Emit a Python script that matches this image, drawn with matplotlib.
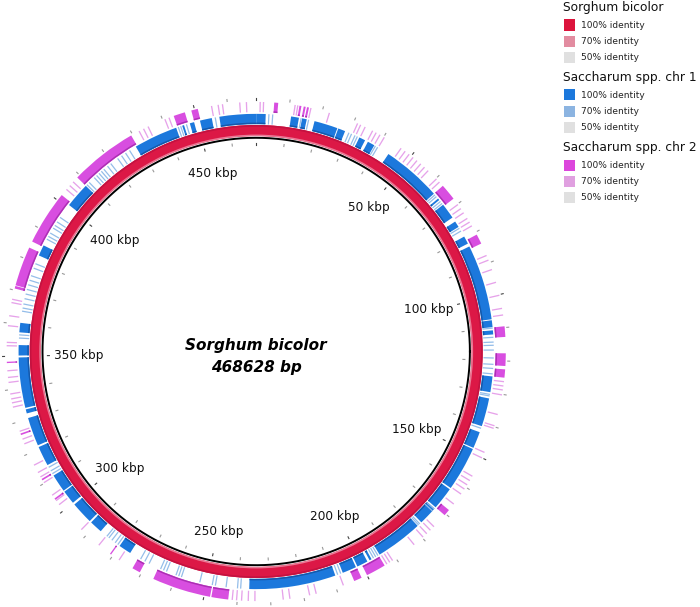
import numpy as np
import matplotlib
matplotlib.use('Agg')
import matplotlib.pyplot as plt
from matplotlib.patches import Wedge, Rectangle

# genome length and the ring data, kbp
genome_kbp = 468.628
tick_labels = ['50 kbp', '100 kbp', '150 kbp', '200 kbp', '250 kbp',
               '300 kbp', '350 kbp', '400 kbp', '450 kbp']
tick_pos = [50, 100, 150, 200, 250, 300, 350, 400, 450]

# Saccharum spp. chr 1 - 100% identity hits (start, end)
chr1_hi_start = [457, 0, 11, 14.5, 18.5, 26.3, 33.5, 36.5, 44, 65, 67.5, 74, 79.5, 83,
                 107.3, 110.5, 125, 132, 143, 148.7, 163.3, 171, 178.6, 196.5, 198, 202,
                 209, 276, 287.5, 292.2, 300, 304.8, 314.3, 321.2, 331.8, 333.6, 350.2,
                 357.5, 382.5, 401, 429, 445, 447.5, 450.8]
chr1_hi_end = [468.628, 3, 13.5, 16, 26, 28.6, 35.5, 38.8, 63, 65.6, 72.5, 76, 82, 107,
               109.5, 111.8, 130, 141, 148.3, 162.8, 170.5, 177, 193.6, 197.2, 201.5, 206.5,
               236.5, 280, 291.6, 299.3, 304.4, 310.5, 320.6, 330.3, 333.1, 349.6, 353.5,
               360.5, 386, 409, 443, 445.6, 448.9, 454.6]
# Saccharum spp. chr 1 - 70% identity hits (line starts)
chr1_lo = [3.8, 5, 14, 16.4, 29.7, 30.6, 31.8, 32.6, 39, 39.8, 63.3, 64, 66, 66.8, 76.3,
           77.3, 109.6, 112.5, 114, 115, 116.5, 119, 121, 122.3, 124, 130.5, 131, 141.5,
           171, 171.8, 177.5, 178, 194, 194.8, 195.6, 207, 208, 239, 240, 243.6, 247, 248,
           252, 258, 258.9, 259.8, 263, 264, 265, 269, 270.5, 272, 280.5, 281.5, 282.8,
           284, 284.8, 311, 312, 313.3, 355.5, 356.5, 364, 365, 366.3, 368, 369.5, 371,
           372.5, 374, 375.5, 378, 379.5, 388, 389, 390.2, 392, 393, 394.3, 396, 409.3,
           410.3, 412.5, 413.5, 414.5, 415.5, 416.5, 418, 419.3, 422, 423.5, 425, 426.5,
           443.5, 444.3, 446.2, 455.5]

# Saccharum spp. chr 2 - 100% identity hits
chr2_hi_start = [5.4, 13, 14.3, 15.3, 63, 80.8, 109.6, 117.7, 122.5, 168.5, 194, 201.8,
                 242.7, 248.2, 270.5, 280.6, 304, 311, 326, 348, 370.5, 371.5, 385.5, 409,
                 443.5, 449]
chr2_hi_end = [6.6, 13.6, 14.9, 15.9, 68, 83.8, 112.8, 121.5, 125, 170.5, 200, 204.2,
               247.8, 266, 273, 281, 304.5, 311.5, 326.5, 348.4, 371.3, 383.5, 402, 429.5,
               447, 451]
# Saccharum spp. chr 2 - 70% identity hits
chr2_lo = [1, 2, 11.5, 12.3, 16.3, 22, 31, 32, 33.5, 36, 37.2, 38.5, 40, 46, 47.5, 49, 50.5,
           52, 53.5, 55, 56.5, 60, 61.3, 70, 71.5, 73, 75, 76.3, 77.6, 87.5, 89, 92, 96, 100,
           104, 106, 126, 127.3, 128.5, 130, 136, 139.5, 140.3, 148, 149.8, 156, 157.5, 159,
           160.5, 162.3, 166, 175, 176.5, 178, 179.5, 183, 191, 192, 193, 207.5, 216, 218,
           224, 226, 234.5, 236.5, 238.5, 240, 241.3, 277.5, 285, 292, 302, 303.5, 305.5,
           310, 312, 313.5, 316, 323, 324.5, 327, 334.5, 335.8, 337, 338.5, 342, 343.5,
           345.5, 353, 354, 359, 362, 366, 367, 404, 405.5, 407, 432, 433.5, 435, 440.5,
           441.8, 455, 457, 458.3, 463.5, 465.5]

legend_groups = ['Sorghum bicolor', 'Saccharum spp. chr 1', 'Saccharum spp. chr 2']
legend_entries = ['100% identity', '70% identity', '50% identity']

W, H = 700, 607
R_PX = 213.7
CX, CY = 256.2, 351.5

fig = plt.figure(figsize=(W / 100, H / 100), dpi=100)
ax = fig.add_axes([0, 0, 1, 1])
ax.set_xlim(-CX / R_PX, (W - CX) / R_PX)
ax.set_ylim(-(H - CY) / R_PX, CY / R_PX)
ax.set_aspect('equal')
ax.axis('off')


def arc(start, end, r0, r1, color):
    t1 = 90 - end / genome_kbp * 360
    t2 = 90 - start / genome_kbp * 360
    ax.add_patch(Wedge((0, 0), r1, t1, t2, width=r1 - r0, facecolor=color,
                       edgecolor='none', lw=0))


# black backbone
th = np.linspace(0, 2 * np.pi, 800)
ax.plot(np.cos(th), np.sin(th), color='black', lw=1.4)

# Sorghum ring
arc(0, genome_kbp, 1.008, 1.06, '#dc1846')
arc(0, genome_kbp, 1.008, 1.015, '#ea7a96')
arc(0, genome_kbp, 1.052, 1.06, '#c41240')

# chr 1 ring
B0, B1 = 1.064, 1.112
for s, e in zip(chr1_hi_start, chr1_hi_end):
    arc(s, e, B0, B1, '#1c78dc')
    arc(s, e, B0, B0 + 0.007, '#1558aa')
for s in chr1_lo:
    arc(s, s + 0.4, B0, B1, '#94bde9')

# chr 2 ring
P0, P1 = 1.12, 1.168
for s in chr2_lo:
    arc(s, s + 0.4, P0, P1, '#e6a2ea')
for s, e in zip(chr2_hi_start, chr2_hi_end):
    arc(s, e, P0, P1, '#d84ee0')
    arc(s, e, P0, P0 + 0.007, '#ac30b4')

# tick marks every 10 kbp
for k in np.arange(0, genome_kbp, 10):
    a = np.deg2rad(k / genome_kbp * 360)
    major = (k % 50 == 0)
    c = '#444444' if major else '#999999'
    ax.plot([1.178 * np.sin(a), 1.187 * np.sin(a)], [1.178 * np.cos(a), 1.187 * np.cos(a)],
            color=c, lw=0.8)
    ax.plot([0.968 * np.sin(a), 0.977 * np.sin(a)], [0.968 * np.cos(a), 0.977 * np.cos(a)],
            color=c, lw=0.8)

# position labels
for k, lab in zip(tick_pos, tick_labels):
    a = np.deg2rad(k / genome_kbp * 360)
    hw = 3.5 * len(lab)
    x = np.sin(a) * (202 - hw) / R_PX
    y = np.cos(a) * 184 / R_PX
    ax.text(x, y, lab, ha='center', va='center', fontsize=8.7, color='#111111')

ax.text(0, 0.03, 'Sorghum bicolor', ha='center', va='center', fontsize=11,
        fontweight='bold', style='italic')
ax.text(0, -0.077, '468628 bp', ha='center', va='center', fontsize=11,
        fontweight='bold', style='italic')

# legend
colors = [['#dc143c', '#e28ca0', '#e0e0e0'],
          ['#1c78dc', '#8cb4e1', '#e0e0e0'],
          ['#dc46dc', '#e0a0e0', '#e0e0e0']]
title_y = [7, 77, 147]
for g, (name, ty) in enumerate(zip(legend_groups, title_y)):
    fig.text(563 / W, 1 - ty / H, name, ha='left', va='center', fontsize=8.8, color='#111111')
    for i, lab in enumerate(legend_entries):
        ey = ty + 18 + i * 16.3
        fig.add_artist(Rectangle((564 / W, 1 - (ey + 5.5) / H), 11 / W, 11 / H,
                                 transform=fig.transFigure, facecolor=colors[g][i],
                                 edgecolor='none'))
        fig.text(581 / W, 1 - ey / H, lab, ha='left', va='center', fontsize=6.5,
                 color='#222222')

fig.savefig('out.png', dpi=100)
